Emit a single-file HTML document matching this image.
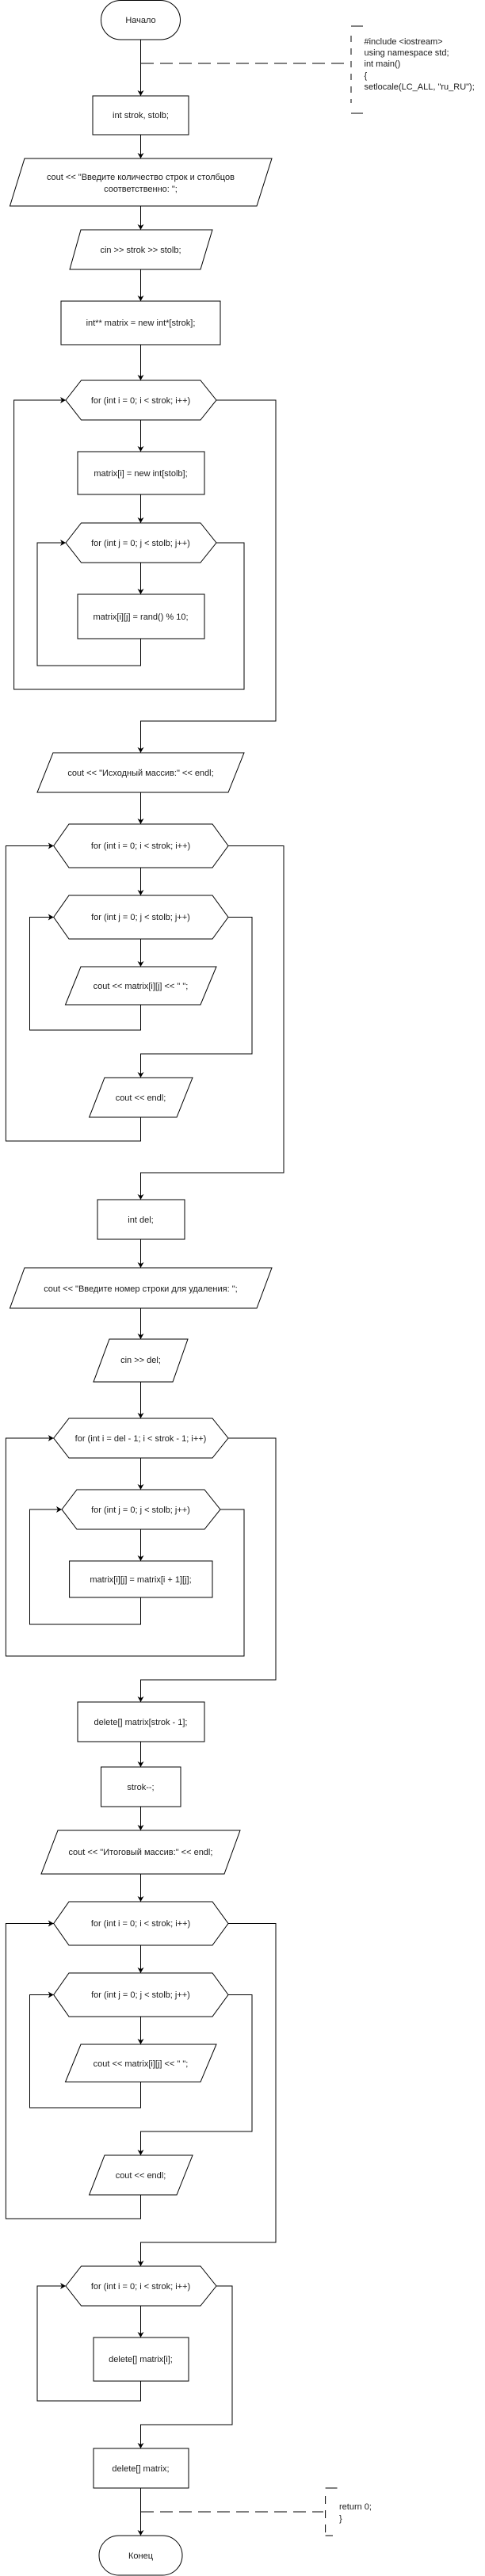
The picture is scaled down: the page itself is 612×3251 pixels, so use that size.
<!DOCTYPE html>
<html><head><meta charset="utf-8"><style>
html,body{margin:0;padding:0;background:#fff;}
svg{display:block;}
text{font-family:"Liberation Sans",Arial,sans-serif;font-size:11px;fill:#1a1a1a;}
</style></head><body>
<svg width="612" height="3251" viewBox="0 0 612 3251" xmlns="http://www.w3.org/2000/svg">
<defs>
<marker id="a" markerWidth="8" markerHeight="8" refX="7" refY="4" orient="auto" markerUnits="userSpaceOnUse">
<path d="M0,0 L7,4 L0,8 L2,4 Z" fill="#000"/>
</marker>
</defs>
<g fill="#fff" stroke="#000" stroke-width="1">
<rect x="127.5" y="0.5" width="100" height="49.5" rx="24.75"/>
<rect x="117" y="121" width="121" height="49"/>
<polygon points="31,200 343,200 324,260 12.5,260"/>
<polygon points="102,290 268,290 253,340 88,340"/>
<rect x="77" y="380" width="201" height="55"/>
<polygon points="83,505 102.5,480 253,480 273,505 253,530 102.5,530"/>
<rect x="98" y="570" width="160" height="54"/>
<polygon points="83,685 102.5,660 253,660 273,685 253,710 102.5,710"/>
<rect x="98" y="750" width="160" height="56"/>
<polygon points="67,950 308,950 288,1000 47,1000"/>
<polygon points="67.7,1067.5 87,1040 268,1040 288,1067.5 268,1095 87,1095"/>
<polygon points="67.7,1157.5 87,1130 268,1130 288,1157.5 268,1185 87,1185"/>
<polygon points="102,1220 273,1220 253,1268 82.5,1268"/>
<polygon points="132,1360 243,1360 223,1410 112.6,1410"/>
<rect x="123" y="1514" width="110" height="50"/>
<polygon points="31,1600 343,1600 324,1651 12.5,1651"/>
<polygon points="138,1690 237,1690 218,1744 118,1744"/>
<polygon points="67.7,1815 87,1790 268,1790 288,1815 268,1840 87,1840"/>
<polygon points="78,1905 97,1880 258,1880 278,1905 258,1930 97,1930"/>
<rect x="87.6" y="1970" width="180.4" height="46"/>
<rect x="98" y="2148" width="160" height="50"/>
<rect x="127.5" y="2230" width="100.5" height="50"/>
<polygon points="73,2310 303,2310 283,2365 52,2365"/>
<polygon points="67.7,2427.5 87,2400 268,2400 288,2427.5 268,2455 87,2455"/>
<polygon points="67.7,2517.5 87,2490 268,2490 288,2517.5 268,2545 87,2545"/>
<polygon points="102,2580 273,2580 253,2627.5 82.5,2627.5"/>
<polygon points="132,2720 243,2720 223,2770 112.6,2770"/>
<polygon points="83,2885 102.5,2860 253,2860 273,2885 253,2910 102.5,2910"/>
<rect x="118" y="2950" width="120" height="55"/>
<rect x="118" y="3090" width="120" height="50"/>
<rect x="125" y="3200" width="105" height="50" rx="25"/>
</g>
<g fill="none" stroke="#000" stroke-width="1">
<path d="M177.5,50 V121" marker-end="url(#a)"/>
<path d="M177.5,170 V200" marker-end="url(#a)"/>
<path d="M177.5,260 V290" marker-end="url(#a)"/>
<path d="M177.5,340 V380" marker-end="url(#a)"/>
<path d="M177.5,435 V480" marker-end="url(#a)"/>
<path d="M177.5,530 V570" marker-end="url(#a)"/>
<path d="M177.5,624 V660" marker-end="url(#a)"/>
<path d="M177.5,710 V750" marker-end="url(#a)"/>
<path d="M177.5,806 V840 H47 V685 H83" marker-end="url(#a)"/>
<path d="M273,685 H308 V870 H17.6 V505 H83" marker-end="url(#a)"/>
<path d="M273,505 H348 V910 H177.5 V950" marker-end="url(#a)"/>
<path d="M177.5,1000 V1040" marker-end="url(#a)"/>
<path d="M177.5,1095 V1130" marker-end="url(#a)"/>
<path d="M177.5,1185 V1220" marker-end="url(#a)"/>
<path d="M177.5,1268 V1300 H37.5 V1157.5 H67.7" marker-end="url(#a)"/>
<path d="M288,1157.5 H318 V1330 H177.5 V1360" marker-end="url(#a)"/>
<path d="M177.5,1410 V1440 H7.4 V1067.5 H67.7" marker-end="url(#a)"/>
<path d="M288,1067.5 H358 V1480 H177.5 V1514" marker-end="url(#a)"/>
<path d="M177.5,1564 V1600" marker-end="url(#a)"/>
<path d="M177.5,1651 V1690" marker-end="url(#a)"/>
<path d="M177.5,1744 V1790" marker-end="url(#a)"/>
<path d="M177.5,1840 V1880" marker-end="url(#a)"/>
<path d="M177.5,1930 V1970" marker-end="url(#a)"/>
<path d="M177.5,2016 V2050 H37.5 V1905 H78" marker-end="url(#a)"/>
<path d="M278,1905 H308 V2090 H7.4 V1815 H67.7" marker-end="url(#a)"/>
<path d="M288,1815 H348 V2120 H177.5 V2148" marker-end="url(#a)"/>
<path d="M177.5,2198 V2230" marker-end="url(#a)"/>
<path d="M177.5,2280 V2310" marker-end="url(#a)"/>
<path d="M177.5,2365 V2400" marker-end="url(#a)"/>
<path d="M177.5,2455 V2490" marker-end="url(#a)"/>
<path d="M177.5,2545 V2580" marker-end="url(#a)"/>
<path d="M177.5,2627.5 V2660 H37.5 V2517.5 H67.7" marker-end="url(#a)"/>
<path d="M288,2517.5 H318 V2690 H177.5 V2720" marker-end="url(#a)"/>
<path d="M177.5,2770 V2800 H7.4 V2427.5 H67.7" marker-end="url(#a)"/>
<path d="M288,2427.5 H348 V2830 H177.5 V2860" marker-end="url(#a)"/>
<path d="M177.5,2910 V2950" marker-end="url(#a)"/>
<path d="M177.5,3005 V3030 H47 V2885 H83" marker-end="url(#a)"/>
<path d="M273,2885 H293 V3060 H177.5 V3090" marker-end="url(#a)"/>
<path d="M177.5,3140 V3200" marker-end="url(#a)"/>
<path d="M178,80 H442" stroke-dasharray="16 8"/>
<path d="M458,33 H443"/>
<path d="M443,45 V130" stroke-dasharray="8 8"/>
<path d="M443,143 H458"/>
<path d="M178,3170 H408" stroke-dasharray="16 8"/>
<path d="M425.5,3140 H410.6"/>
<path d="M410.6,3150 V3200" stroke-dasharray="10 8"/>
<path d="M410.6,3200 H420"/>
</g>
<g text-anchor="middle">
<text x="177.5" y="29">Начало</text>
<text x="177.5" y="149">int strok, stolb;</text>
<text x="177.5" y="227">cout &lt;&lt; "Введите количество строк и столбцов</text>
<text x="177.5" y="242">соответственно: ";</text>
<text x="177.5" y="319">cin &gt;&gt; strok &gt;&gt; stolb;</text>
<text x="177.5" y="411">int** matrix = new int*[strok];</text>
<text x="177.5" y="509">for (int i = 0; i &lt; strok; i++)</text>
<text x="177.5" y="601">matrix[i] = new int[stolb];</text>
<text x="177.5" y="689">for (int j = 0; j &lt; stolb; j++)</text>
<text x="177.5" y="782">matrix[i][j] = rand() % 10;</text>
<text x="177.5" y="979">cout &lt;&lt; "Исходный массив:" &lt;&lt; endl;</text>
<text x="177.5" y="1071">for (int i = 0; i &lt; strok; i++)</text>
<text x="177.5" y="1161">for (int j = 0; j &lt; stolb; j++)</text>
<text x="177.5" y="1248">cout &lt;&lt; matrix[i][j] &lt;&lt; " ";</text>
<text x="177.5" y="1389">cout &lt;&lt; endl;</text>
<text x="177.5" y="1543">int del;</text>
<text x="177.5" y="1630">cout &lt;&lt; "Введите номер строки для удаления: ";</text>
<text x="177.5" y="1720">cin &gt;&gt; del;</text>
<text x="177.5" y="1819">for (int i = del - 1; i &lt; strok - 1; i++)</text>
<text x="177.5" y="1909">for (int j = 0; j &lt; stolb; j++)</text>
<text x="177.5" y="1997">matrix[i][j] = matrix[i + 1][j];</text>
<text x="177.5" y="2177">delete[] matrix[strok - 1];</text>
<text x="177.5" y="2259">strok--;</text>
<text x="177.5" y="2341">cout &lt;&lt; "Итоговый массив:" &lt;&lt; endl;</text>
<text x="177.5" y="2431">for (int i = 0; i &lt; strok; i++)</text>
<text x="177.5" y="2521">for (int j = 0; j &lt; stolb; j++)</text>
<text x="177.5" y="2608">cout &lt;&lt; matrix[i][j] &lt;&lt; " ";</text>
<text x="177.5" y="2749">cout &lt;&lt; endl;</text>
<text x="177.5" y="2889">for (int i = 0; i &lt; strok; i++)</text>
<text x="177.5" y="2981">delete[] matrix[i];</text>
<text x="177.5" y="3119">delete[] matrix;</text>
<text x="177.5" y="3229">Конец</text>
</g>
<g>
<text x="459.5" y="56">#include &lt;iostream&gt;</text>
<text x="459.5" y="70">using namespace std;</text>
<text x="459.5" y="84">int main()</text>
<text x="459.5" y="99">{</text>
<text x="459.5" y="113">setlocale(LC_ALL, "ru_RU");</text>
<text x="428" y="3167">return 0;</text>
<text x="428" y="3182">}</text>
</g>
</svg>
</body></html>
